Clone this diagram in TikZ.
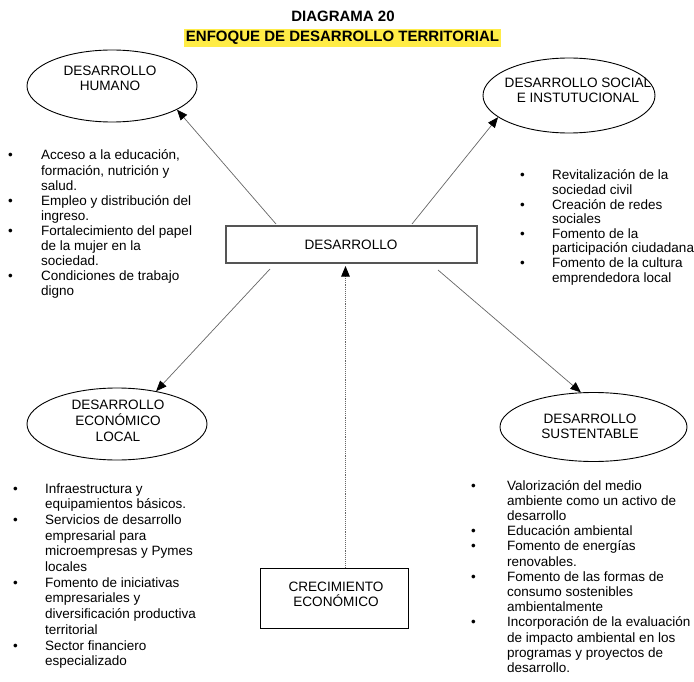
\documentclass[tikz,border=0pt]{standalone}
\usepackage{fontspec}
\setmainfont{Liberation Sans}
\usetikzlibrary{arrows.meta,shapes.geometric}
\definecolor{hl}{RGB}{255,236,70}
\definecolor{boxgray}{RGB}{85,85,85}
\newcommand\cl[1]{\vtop{\halign{\hfil##\hfil\cr#1\crcr}}}
\newcommand\bl[2]{\vtop{\halign{\hbox to #1{##\hfil}&##\hfil\cr#2\crcr}}}
\newcommand\bu{\textbullet}
\begin{document}
\begin{tikzpicture}[x=1pt,y=-1pt,
  txt/.style={inner sep=0pt,anchor=base},
  lst/.style={inner sep=0pt,anchor=base west},
  ell/.style={draw=black,line width=0.9pt,ellipse,inner sep=0pt},
  conn/.style={draw=black!60,line width=0.7pt,-{Triangle[length=10.5pt,width=8.5pt,color=black]}},
  dotconn/.style={draw=black!60,line width=0.9pt,densely dotted,-{Triangle[length=10.5pt,width=8.5pt,color=black]}},
]
\useasboundingbox (0,0) rectangle (694,682);

% titles
\node[txt,font=\bfseries\fontsize{15}{17}\selectfont] (t1) at (343,21.3) {DIAGRAMA 20};
\node[inner xsep=1.5pt,inner ysep=2pt,text height=11pt,text depth=3pt,fill=hl,anchor=base,
      font=\bfseries\fontsize{15}{17}\selectfont] (t2) at (342.5,42) {ENFOQUE DE DESARROLLO TERRITORIAL};

% central boxes
\node[draw=boxgray,line width=1.3pt,minimum width=251pt,minimum height=37pt,inner sep=0pt] (dev) at (351.5,244.5) {};
\node[txt,font=\fontsize{13.6}{15}\selectfont] (dev-t) at (351,250) {DESARROLLO};
\node[draw=black,line width=0.9pt,minimum width=148pt,minimum height=60pt,inner sep=0pt] (cre) at (334,598) {};
\node[txt,font=\fontsize{13.6}{15}\selectfont] (cre-t) at (336,591) {\cl{CRECIMIENTO\cr ECONÓMICO}};

% ellipses
\node[ell,minimum width=170pt,minimum height=72pt] (hum) at (112,86) {};
\node[txt,font=\fontsize{13.6}{14.6}\selectfont] (hum-t) at (110,75.6) {\cl{DESARROLLO\cr HUMANO}};
\node[ell,minimum width=172pt,minimum height=75pt] (soc) at (569,95.5) {};
\node[txt,font=\fontsize{13.6}{15}\selectfont] (soc-t) at (578,88) {\cl{DESARROLLO SOCIAL\cr E INSTUTUCIONAL}};
\node[ell,minimum width=180pt,minimum height=72pt] (loc) at (117,424) {};
\node[txt,font=\fontsize{13.6}{16.2}\selectfont] (loc-t) at (118,409) {\cl{DESARROLLO\cr ECONÓMICO\cr LOCAL}};
\node[ell,minimum width=187pt,minimum height=69pt] (sus) at (593.5,427) {};
\node[txt,font=\fontsize{13.6}{15.4}\selectfont] (sus-t) at (590,423.2) {\cl{DESARROLLO\cr SUSTENTABLE}};

% lists
\node[lst,font=\fontsize{13.5}{15.1}\selectfont] (l1) at (8,160) {\bl{33pt}{%
\bu & Acceso a la educación,\cr
    & formación, nutrición y\cr
    & salud.\cr
\bu & Empleo y distribución del\cr
    & ingreso.\cr
\bu & Fortalecimiento del papel\cr
    & de la mujer en la\cr
    & sociedad.\cr
\bu & Condiciones de trabajo\cr
    & digno}};
\node[lst,font=\fontsize{13.5}{14.6}\selectfont] (l2) at (520,180) {\bl{32pt}{%
\bu & Revitalización de la\cr
    & sociedad civil\cr
\bu & Creación de redes\cr
    & sociales\cr
\bu & Fomento de la\cr
    & participación ciudadana\cr
\bu & Fomento de la cultura\cr
    & emprendedora local}};
\node[lst,font=\fontsize{13.5}{15.7}\selectfont] (l3) at (13,493) {\bl{32pt}{%
\bu & Infraestructura y\cr
    & equipamientos básicos.\cr
\bu & Servicios de desarrollo\cr
    & empresarial para\cr
    & microempresas y Pymes\cr
    & locales\cr
\bu & Fomento de iniciativas\cr
    & empresariales y\cr
    & diversificación productiva\cr
    & territorial\cr
\bu & Sector financiero\cr
    & especializado}};
\node[lst,font=\fontsize{13.5}{15.2}\selectfont] (l4) at (471,490) {\bl{36pt}{%
\bu & Valorización del medio\cr
    & ambiente como un activo de\cr
    & desarrollo\cr
\bu & Educación ambiental\cr
\bu & Fomento de energías\cr
    & renovables.\cr
\bu & Fomento de las formas de\cr
    & consumo sostenibles\cr
    & ambientalmente\cr
\bu & Incorporación de la evaluación\cr
    & de impacto ambiental en los\cr
    & programas y proyectos de\cr
    & desarrollo.}};

% connectors
\coordinate (s1) at (276,224);
\coordinate (s2) at (412,224);
\coordinate (s3) at (270,269);
\coordinate (s4) at (438,270);
\coordinate (tipd) at (345.5,266);
\draw[conn] (s1) -- (hum.-20);
\draw[conn] (s2) -- (soc.197);
\draw[conn] (s3) -- (loc.40);
\draw[conn] (s4) -- (sus.110);
\draw[dotconn] (cre.north -| tipd) -- (tipd);
\end{tikzpicture}
\end{document}
